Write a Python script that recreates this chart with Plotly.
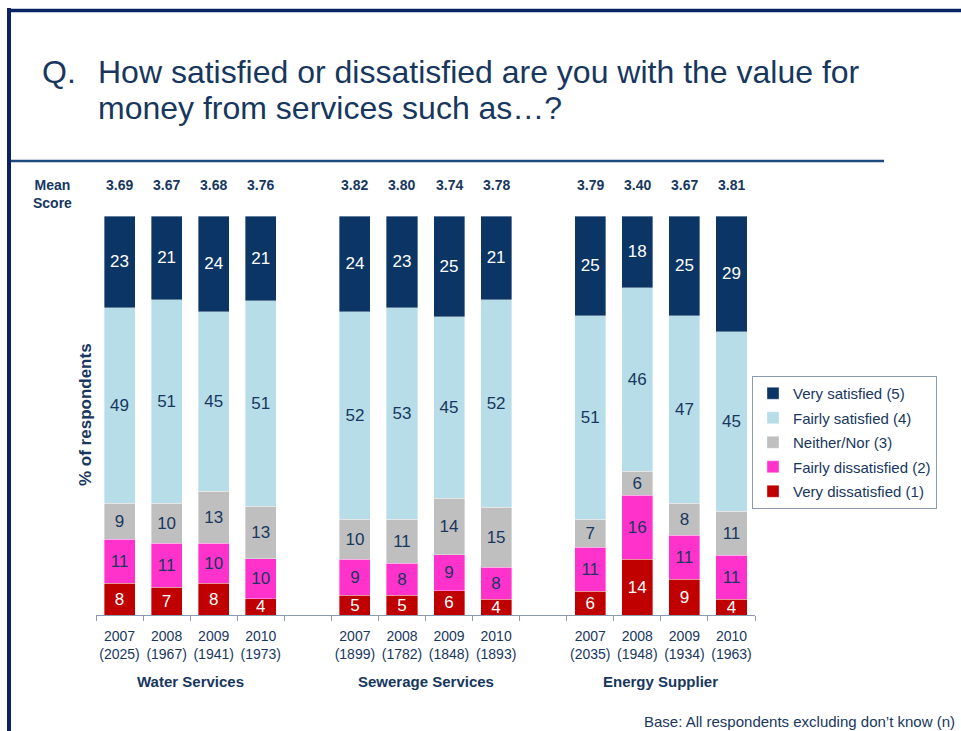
import plotly.graph_objects as go

# ---- data -------------------------------------------------------------
groups = ["Water Services", "Sewerage Services", "Energy Supplier"]
years = ["2007", "2008", "2009", "2010"]
base_n = [
    [2025, 1967, 1941, 1973],
    [1899, 1782, 1848, 1893],
    [2035, 1948, 1934, 1963],
]
mean_scores = [
    ["3.69", "3.67", "3.68", "3.76"],
    ["3.82", "3.80", "3.74", "3.78"],
    ["3.79", "3.40", "3.67", "3.81"],
]

# stack order: bottom to top
series_names = [
    "Very dissatisfied (1)",
    "Fairly dissatisfied (2)",
    "Neither/Nor (3)",
    "Fairly satisfied (4)",
    "Very satisfied (5)",
]
very_dissatisfied = [8, 7, 8, 4, 5, 5, 6, 4, 6, 14, 9, 4]
fairly_dissatisfied = [11, 11, 10, 10, 9, 8, 9, 8, 11, 16, 11, 11]
neither_nor = [9, 10, 13, 13, 10, 11, 14, 15, 7, 6, 8, 11]
fairly_satisfied = [49, 51, 45, 51, 52, 53, 45, 52, 51, 46, 47, 45]
very_satisfied = [23, 21, 24, 21, 24, 23, 25, 21, 25, 18, 25, 29]

series_values = [very_dissatisfied, fairly_dissatisfied, neither_nor,
                 fairly_satisfied, very_satisfied]
series_colors = ["#C00000", "#FF33CC", "#BFBFBF", "#B7DDE8", "#0B3565"]
label_colors = ["#FFFFFF", "#17375E", "#17375E", "#17375E", "#FFFFFF"]

question_lines = [
    "How satisfied or dissatisfied are you with the value for",
    "money from services such as\u2026?",
]

NAVY = "#17375E"
FRAME = "#0A2463"
FONT = "Liberation Sans, Arial, sans-serif"

# ---- category axis: 4 years per group, an empty slot between groups ---
cats, tick_text, bar_cats = [], [], []
for gi, g in enumerate(groups):
    if gi > 0:
        cats.append(f"gap{gi}")
        tick_text.append("")
    for yi, yr in enumerate(years):
        key = f"{g} {yr}"
        cats.append(key)
        bar_cats.append(key)
        tick_text.append(f"{yr}<br>({base_n[gi][yi]})")

# ---- figure geometry (pixels) -----------------------------------------
W, H = 961, 731
ML, MR, MT, MB = 96, 206, 216, 116
PW, PH = W - ML - MR, H - MT - MB


def px(x):
    return (x - ML) / PW


def py(y):
    return (H - MB - y) / PH


fig = go.Figure()
n_series = len(series_names)
for si, (name, vals, col, lc) in enumerate(zip(series_names, series_values,
                                                series_colors, label_colors)):
    fig.add_trace(go.Bar(
        name=name,
        legendgroup=name,
        legendrank=n_series - si,  # top of the stack first in the legend
        x=bar_cats,
        y=vals,
        text=[str(v) for v in vals],
        textposition="inside",
        insidetextanchor="middle",
        textangle=0,
        constraintext="none",
        textfont=dict(family=FONT, size=17, color=lc),
        marker=dict(color=col, line=dict(color="rgba(255,255,255,0.6)", width=0.6)),
        hoverinfo="skip",
    ))

annotations = []
# mean scores above each bar
for gi, g in enumerate(groups):
    for yi, yr in enumerate(years):
        annotations.append(dict(
            x=f"{g} {yr}", xref="x", y=py(185), yref="paper",
            text=f"<b>{mean_scores[gi][yi]}</b>", showarrow=False,
            font=dict(family=FONT, size=14, color=NAVY),
            xanchor="center", yanchor="middle",
        ))
annotations.append(dict(
    x=px(52), xref="paper", y=py(194), yref="paper",
    text="<b>Mean<br>Score</b>", showarrow=False,
    font=dict(family=FONT, size=14, color=NAVY),
    xanchor="center", yanchor="middle", align="center",
))
# group labels
for gi, g in enumerate(groups):
    centre = cats.index(f"{g} 2008") + 0.5
    annotations.append(dict(
        x=centre, xref="x", y=py(681), yref="paper",
        text=f"<b>{g}</b>", showarrow=False,
        font=dict(family=FONT, size=15, color=NAVY),
        xanchor="center", yanchor="middle",
    ))
# y-axis title
annotations.append(dict(
    x=px(85), xref="paper", y=py(415), yref="paper",
    text="<b>% of respondents</b>", showarrow=False, textangle=-90,
    font=dict(family=FONT, size=17, color=NAVY),
    xanchor="center", yanchor="middle",
))
# question heading
annotations.append(dict(
    x=px(40), xref="paper", y=py(72), yref="paper",
    text="Q.", showarrow=False,
    font=dict(family=FONT, size=32, color=NAVY),
    xanchor="left", yanchor="middle",
))
for li, line in enumerate(question_lines):
    annotations.append(dict(
        x=px(96), xref="paper", y=py(72 + 36 * li), yref="paper",
        text=line, showarrow=False,
        font=dict(family=FONT, size=32, color=NAVY),
        xanchor="left", yanchor="middle",
    ))
# base note
annotations.append(dict(
    x=px(957), xref="paper", y=py(721), yref="paper",
    text="Base: All respondents excluding don\u2019t know (n)", showarrow=False,
    font=dict(family=FONT, size=15, color=NAVY),
    xanchor="right", yanchor="middle",
))

shapes = [
    # slide frame: left and top rules
    dict(type="line", xref="paper", yref="paper", x0=px(9), x1=px(9),
         y0=py(8), y1=py(735), line=dict(color=FRAME, width=4)),
    dict(type="line", xref="paper", yref="paper", x0=px(7), x1=px(965),
         y0=py(10.5), y1=py(10.5), line=dict(color=FRAME, width=3.5)),
    # rule under the question
    dict(type="line", xref="paper", yref="paper", x0=px(11), x1=px(884),
         y0=py(161), y1=py(161), line=dict(color="#1F4A80", width=2.5)),
]

fig.update_layout(
    width=W, height=H,
    margin=dict(l=ML, r=MR, t=MT, b=MB, pad=0),
    paper_bgcolor="white", plot_bgcolor="white",
    barmode="stack", barnorm="percent", bargap=0.34,
    font=dict(family=FONT, color=NAVY),
    xaxis=dict(
        type="category", categoryorder="array", categoryarray=cats,
        tickmode="array", tickvals=cats, ticktext=tick_text, tickangle=0,
        tickson="boundaries", ticks="outside", ticklen=5, tickcolor="#8D9BB2",
        ticklabelstandoff=8,
        showline=True, linecolor="#8D9BB2", linewidth=1,
        showgrid=False, tickfont=dict(family=FONT, size=14, color=NAVY),
        range=[-0.5, len(cats) - 0.5], fixedrange=True,
    ),
    yaxis=dict(range=[0, 100], visible=False, fixedrange=True),
    legend=dict(
        traceorder="grouped", tracegroupgap=2,
        x=px(752), xanchor="left", y=py(376), yanchor="top",
        bgcolor="white", bordercolor="#8D9BB2", borderwidth=1,
        font=dict(family=FONT, size=15, color=NAVY),
    ),
    annotations=annotations,
    shapes=shapes,
    showlegend=True,
)

fig.write_html("out.html")
